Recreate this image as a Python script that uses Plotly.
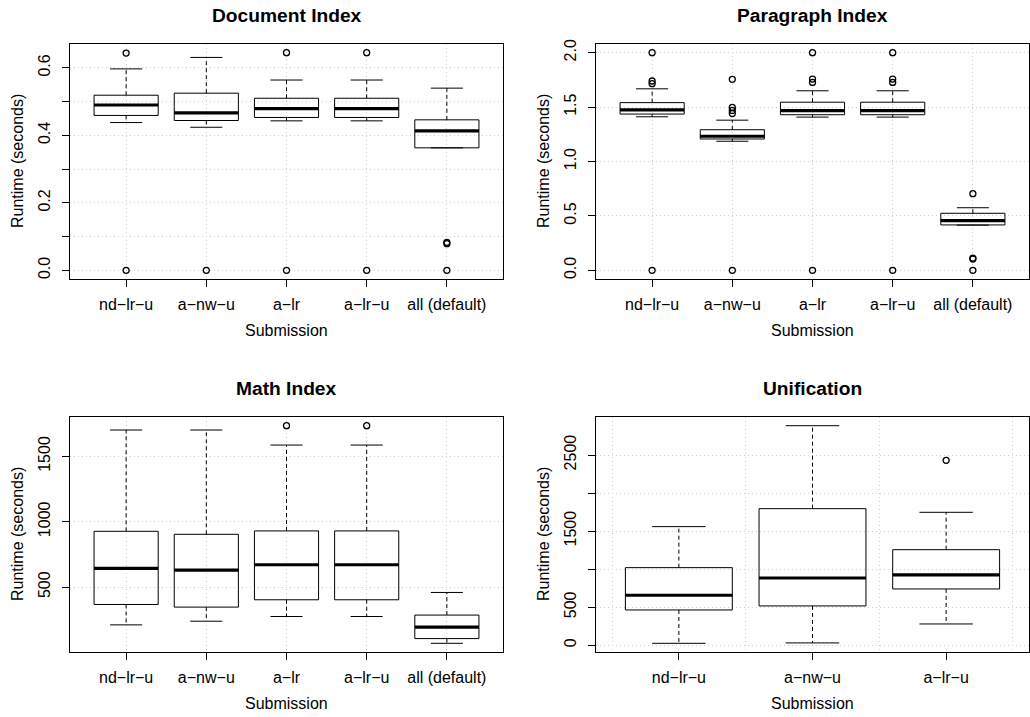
import plotly.graph_objects as go

W, H = 1030, 717
FONT = "Liberation Sans, Arial, Helvetica, sans-serif"

# ---------------- data ----------------
cats5 = ["nd\u2212lr\u2212u", "a\u2212nw\u2212u", "a\u2212lr", "a\u2212lr\u2212u", "all (default)"]
cats3 = ["nd\u2212lr\u2212u", "a\u2212nw\u2212u", "a\u2212lr\u2212u"]

# Document Index
doc_lo = [0.438, 0.424, 0.443, 0.443, 0.363]
doc_q1 = [0.459, 0.444, 0.453, 0.453, 0.363]
doc_med = [0.490, 0.4665, 0.479, 0.479, 0.413]
doc_q3 = [0.519, 0.525, 0.510, 0.510, 0.446]
doc_hi = [0.597, 0.631, 0.564, 0.564, 0.540]
doc_out = [[0.0, 0.644], [0.0], [0.0, 0.645], [0.0, 0.645], [0.0, 0.079, 0.083]]
doc_ticks = [0.0, 0.1, 0.2, 0.3, 0.4, 0.5, 0.6]
doc_ticklabels = ["0.0", "", "0.2", "", "0.4", "", "0.6"]

# Paragraph Index
par_lo = [1.411, 1.186, 1.408, 1.408, 0.415]
par_q1 = [1.436, 1.207, 1.430, 1.430, 0.417]
par_med = [1.474, 1.232, 1.468, 1.468, 0.456]
par_q3 = [1.541, 1.292, 1.545, 1.545, 0.524]
par_hi = [1.668, 1.380, 1.650, 1.650, 0.575]
par_out = [[0.0, 1.715, 1.740, 2.0],
           [0.0, 1.441, 1.469, 1.497, 1.755],
           [0.0, 1.727, 1.758, 2.0],
           [0.0, 1.727, 1.758, 2.0],
           [0.0, 0.104, 0.112, 0.704]]
par_ticks = [0.0, 0.5, 1.0, 1.5, 2.0]
par_ticklabels = ["0.0", "0.5", "1.0", "1.5", "2.0"]

# Math Index
mat_lo = [211, 239, 275, 275, 70]
mat_q1 = [367, 347, 403, 403, 106]
mat_med = [643, 630, 671, 671, 193]
mat_q3 = [927, 904, 930, 930, 286]
mat_hi = [1702, 1702, 1587, 1587, 459]
mat_out = [[], [], [1735], [1735], []]
mat_ticks = [500, 1000, 1500]
mat_ticklabels = ["500", "1000", "1500"]

# Unification
uni_lo = [26, 31, 280]
uni_q1 = [464, 517, 740]
uni_med = [657, 884, 924]
uni_q3 = [1020, 1795, 1256]
uni_hi = [1559, 2885, 1747]
uni_out = [[], [], [2430]]
uni_ticks = [0, 500, 1000, 1500, 2000, 2500]
uni_ticklabels = ["0", "500", "", "1500", "", "2500"]
uni_xgrid = [0.5, 1.5, 2.5, 3.5]

titles = ["Document Index", "Paragraph Index", "Math Index", "Unification"]
xlabel = "Submission"
ylabel = "Runtime (seconds)"

# ---------------- layout geometry (pixels) ----------------
domains_px = [  # x0, x1, ytop, ybottom
    (70, 503, 44, 279),
    (596, 1029, 44, 279),
    (70, 503, 417, 652),
    (596, 1029, 417, 652),
]
BW = 0.4      # half box width (category units)
SW = 0.2      # half staple width
GRID = "#cfcfcf"
GDASH = "1px,3px"

panels = [
    (cats5, doc_lo, doc_q1, doc_med, doc_q3, doc_hi, doc_out, doc_ticks, doc_ticklabels, None),
    (cats5, par_lo, par_q1, par_med, par_q3, par_hi, par_out, par_ticks, par_ticklabels, None),
    (cats5, mat_lo, mat_q1, mat_med, mat_q3, mat_hi, mat_out, mat_ticks, mat_ticklabels, None),
    (cats3, uni_lo, uni_q1, uni_med, uni_q3, uni_hi, uni_out, uni_ticks, uni_ticklabels, uni_xgrid),
]

fig = go.Figure()
layout = dict(
    template="none",
    width=W, height=H,
    margin=dict(l=0, r=0, t=0, b=0, pad=0, autoexpand=False),
    paper_bgcolor="white", plot_bgcolor="white",
    showlegend=False,
    font=dict(family=FONT, size=16, color="black"),
)
annotations = []

for k, (cats, lo, q1, med, q3, hi, outs, yt, ytl, xgrid) in enumerate(panels, start=1):
    xa = "x" if k == 1 else f"x{k}"
    ya = "y" if k == 1 else f"y{k}"
    pos = list(range(1, len(cats) + 1))

    bx, by, mx, my, wx, wy, sx, sy, ox, oy = [], [], [], [], [], [], [], [], [], []
    for p, a, m, b, l, h, o in zip(pos, q1, med, q3, lo, hi, outs):
        bx += [p - BW, p + BW, p + BW, p - BW, p - BW, None]
        by += [a, a, b, b, a, None]
        mx += [p - BW, p + BW, None]
        my += [m, m, None]
        wx += [p, p, None, p, p, None]
        wy += [b, h, None, a, l, None]
        sx += [p - SW, p + SW, None, p - SW, p + SW, None]
        sy += [h, h, None, l, l, None]
        ox += [p] * len(o)
        oy += list(o)

    common = dict(xaxis=xa, yaxis=ya, hoverinfo="skip", showlegend=False)
    fig.add_trace(go.Scatter(x=wx, y=wy, mode="lines",
                             line=dict(color="black", width=1, dash="4px,3px"), **common))
    fig.add_trace(go.Scatter(x=sx, y=sy, mode="lines",
                             line=dict(color="black", width=1), **common))
    fig.add_trace(go.Scatter(x=bx, y=by, mode="lines",
                             line=dict(color="black", width=1), **common))
    fig.add_trace(go.Scatter(x=mx, y=my, mode="lines",
                             line=dict(color="black", width=3.2), **common))
    fig.add_trace(go.Scatter(x=ox, y=oy, mode="markers",
                             marker=dict(symbol="circle-open", size=6, color="black",
                                         line=dict(width=1.3, color="black")), **common))

    allv = list(lo) + list(hi) + [v for o in outs for v in o]
    vmin, vmax = min(allv), max(allv)
    pad = 0.04 * (vmax - vmin)
    n = len(cats)
    xr = [0.5 - 0.04 * n, n + 0.5 + 0.04 * n]

    x0, x1, yt0, yb0 = domains_px[k - 1]
    xdom = [x0 / W, x1 / W]
    ydom = [1 - yb0 / H, 1 - yt0 / H]

    xaxis = dict(
        domain=xdom, range=xr, anchor=ya, automargin=False,
        tickmode="array", tickvals=pos, ticktext=cats,
        ticks="outside", ticklen=7, tickwidth=1, tickcolor="black",
        showline=True, linecolor="black", linewidth=1, mirror=True,
        zeroline=False, tickfont=dict(size=16, family=FONT, color="black"),
        ticklabelstandoff=4,
    )
    if xgrid is None:
        xaxis.update(showgrid=True, gridcolor=GRID, griddash=GDASH, gridwidth=1)
    else:
        xaxis.update(showgrid=False,
                     minor=dict(tickmode="array", tickvals=xgrid, showgrid=True,
                                gridcolor=GRID, griddash=GDASH, gridwidth=1, ticks=""))
    yaxis = dict(
        domain=ydom, range=[vmin - pad, vmax + pad], anchor=xa, automargin=False,
        tickmode="array", tickvals=yt, ticktext=ytl, tickangle=-90,
        ticks="outside", ticklen=7, tickwidth=1, tickcolor="black",
        showline=True, linecolor="black", linewidth=1, mirror=True,
        zeroline=False, showgrid=True, gridcolor=GRID, griddash=GDASH, gridwidth=1,
        tickfont=dict(size=16, family=FONT, color="black"),
        ticklabelstandoff=6,
    )
    layout["xaxis" if k == 1 else f"xaxis{k}"] = xaxis
    layout["yaxis" if k == 1 else f"yaxis{k}"] = yaxis

    xc = (x0 + x1) / 2 / W
    # title
    annotations.append(dict(text=f"<b>{titles[k-1]}</b>", xref="paper", yref="paper",
                            x=xc, y=1 - (yt0 - 29) / H, xanchor="center", yanchor="middle",
                            showarrow=False, font=dict(size=19.2, family=FONT, color="black")))
    # x label
    annotations.append(dict(text=xlabel, xref="paper", yref="paper",
                            x=xc, y=1 - (yb0 + 51) / H, xanchor="center", yanchor="middle",
                            showarrow=False, font=dict(size=16, family=FONT, color="black")))
    # y label
    annotations.append(dict(text=ylabel, xref="paper", yref="paper", textangle=-90,
                            x=(x0 - 52.5) / W, y=1 - (yt0 + yb0) / 2 / H,
                            xanchor="center", yanchor="middle",
                            showarrow=False, font=dict(size=16, family=FONT, color="black")))

layout["annotations"] = annotations
fig.update_layout(**layout)
fig.write_html(
    "out.html",
    config={"displayModeBar": False, "staticPlot": True},
    post_script="document.body.style.margin='0';document.body.style.padding='0';"
                "document.body.style.overflow='hidden';",
)
